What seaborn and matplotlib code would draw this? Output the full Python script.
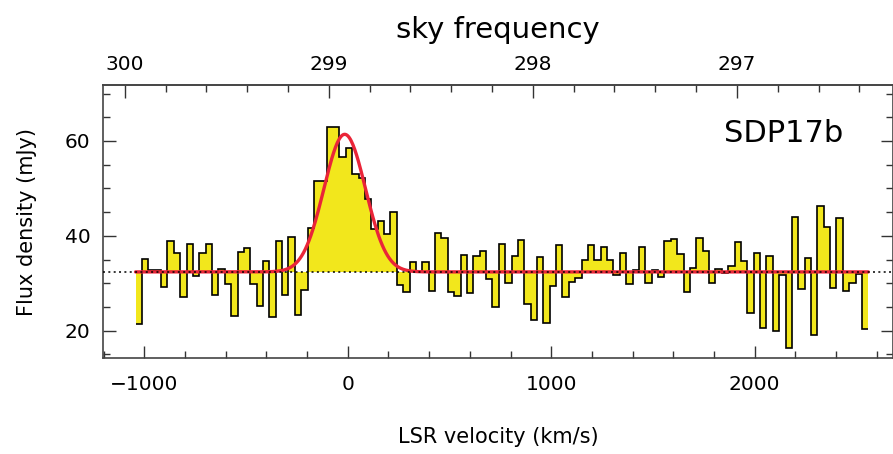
import numpy as np
import matplotlib
matplotlib.use("Agg")
import matplotlib.pyplot as plt
import seaborn as sns
from matplotlib.ticker import MultipleLocator, FixedLocator

# -----------------------------
# Spectrum data
# -----------------------------
v_start = -1043.0      # left edge of first channel (km/s)
chan_width = 31.32     # channel width (km/s)

flux = [21.5, 35.2, 32.7, 32.7, 29.3, 38.9, 36.3, 27.2, 38.2, 31.6,
        36.4, 38.3, 27.5, 33.1, 29.8, 23.2, 36.6, 37.5, 29.9, 25.2,
        34.6, 22.9, 39.0, 27.6, 39.7, 23.3, 28.6, 41.7, 51.6, 51.6,
        62.9, 62.9, 56.6, 58.5, 53.1, 52.2, 47.7, 41.5, 43.1, 40.4,
        45.0, 29.7, 28.1, 34.4, 32.4, 34.4, 28.3, 40.6, 39.6, 28.2,
        27.4, 36.0, 28.0, 35.7, 36.9, 30.9, 25.1, 38.3, 30.0, 35.8,
        39.2, 25.6, 22.3, 35.6, 21.7, 29.5, 38.0, 27.2, 30.3, 31.2,
        35.0, 38.1, 34.9, 37.6, 34.9, 31.7, 36.4, 29.9, 32.8, 37.7,
        30.0, 32.8, 31.3, 38.9, 39.4, 36.1, 28.1, 33.3, 39.6, 36.8,
        30.0, 33.0, 32.2, 33.6, 38.8, 34.8, 23.8, 36.4, 20.6, 35.7,
        20.0, 31.8, 16.4, 43.9, 28.8, 35.4, 19.1, 46.3, 41.9, 29.1,
        43.7, 28.4, 30.1, 32.0, 20.4]

# Gaussian fit parameters
baseline = 32.4
fit_peak = 29.0
fit_center = -15.0
fit_sigma = 102.0

# frequency conversion (radio convention)
f0 = 298.907
c_kms = 299792.458
freq_ticks = [297, 298, 299, 300]

source_name = "SDP17b"

flux = np.array(flux)
edges = v_start + chan_width * np.arange(len(flux) + 1)

fit_v = np.linspace(edges[0], edges[-1], 800)
fit_flux = baseline + fit_peak * np.exp(-0.5 * ((fit_v - fit_center) / fit_sigma) ** 2)

# -----------------------------
# Plot
# -----------------------------
sns.set_style("ticks")
plt.rcParams['font.family'] = ['DejaVu Sans']
plt.rcParams['text.color'] = 'black'
plt.rcParams['axes.labelcolor'] = 'black'

fig = plt.figure(figsize=(8.93, 4.54), dpi=100)
ax = fig.add_axes([103 / 893, 1 - 358 / 454, 790 / 893, 273 / 454])

yellow = '#f2e71c'
ax.fill_between(edges, np.r_[flux, flux[-1]], baseline, step='post',
                color=yellow, lw=0, zorder=1)
ax.stairs(flux, edges, baseline=None, color='black', lw=1.2, zorder=2)

sns.lineplot(x=fit_v, y=fit_flux, color='#ea2538', lw=2.4, ax=ax, zorder=3)
ax.axhline(baseline, color='black', ls=(0, (1.3, 2.2)), lw=1.1, zorder=4)

ax.set_xlim(-1203, 2680)
ax.set_ylim(14.25, 71.8)

ax.xaxis.set_major_locator(MultipleLocator(1000))
ax.xaxis.set_minor_locator(MultipleLocator(200))
ax.yaxis.set_major_locator(MultipleLocator(20))
ax.yaxis.set_minor_locator(MultipleLocator(5))

ax.tick_params(which='both', direction='in', top=False, right=True,
               colors='#333333', labelcolor='black', labelsize=14.5)
ax.tick_params(which='major', length=9, width=1.0)
ax.tick_params(which='minor', length=5, width=1.0)
ax.tick_params(axis='x', pad=12)
ax.tick_params(axis='y', pad=9)

for sp in ax.spines.values():
    sp.set_color('#444444')
    sp.set_linewidth(1.2)

ax.set_xlabel("LSR velocity (km/s)", fontsize=15, labelpad=24)
ax.set_ylabel("Flux density (mJy)", fontsize=15, labelpad=20)

ax.text(0.862, 0.824, source_name, transform=ax.transAxes,
        ha='center', va='center', fontsize=22)

# top frequency axis
def v2f(v):
    return f0 * (1 - np.asarray(v) / c_kms)

def f2v(f):
    return c_kms * (1 - np.asarray(f) / f0)

sec = ax.secondary_xaxis('top', functions=(v2f, f2v))
sec.xaxis.set_major_locator(FixedLocator(freq_ticks))
sec.xaxis.set_minor_locator(MultipleLocator(0.2))
sec.tick_params(which='both', direction='in', colors='#333333',
                labelcolor='black', labelsize=14.5, pad=8)
sec.tick_params(which='major', length=9, width=1.0)
sec.tick_params(which='minor', length=5, width=1.0)
sec.spines['top'].set_color('#444444')
sec.spines['top'].set_linewidth(1.2)
sec.set_xlabel("sky frequency", fontsize=21, labelpad=12)

plt.savefig("out.png", dpi=100)
